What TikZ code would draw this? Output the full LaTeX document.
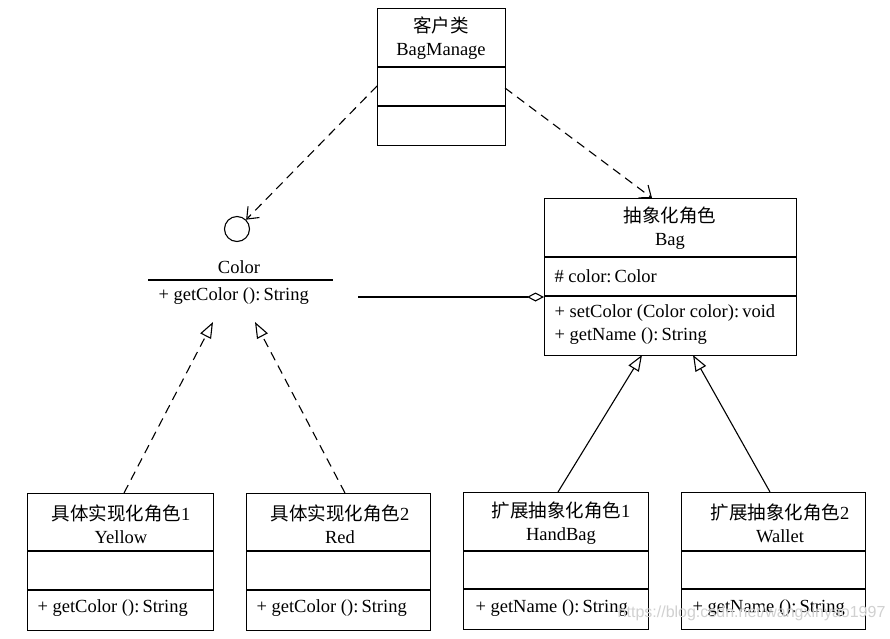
\documentclass[tikz,border=0pt]{standalone}
\usepackage{fontspec}
\setmainfont{Liberation Serif}
\newfontfamily\cjk{Noto Sans CJK SC}
\newfontfamily\wmfont{Liberation Sans}
\usetikzlibrary{arrows.meta}
\begin{document}
\begin{tikzpicture}[x=1pt,y=-1pt,line width=1.1pt,
  box/.style={draw,rectangle,inner sep=0pt,anchor=north west},
  txt/.style={inner sep=0pt,font=\fontsize{18.5}{23}\selectfont,align=center},
  mtxt/.style={inner sep=0pt,anchor=west,font=\fontsize{18.5}{23}\selectfont},
  dep/.style={dash pattern=on 9pt off 6pt,-{Straight Barb[length=10pt,width=16pt]}},
  real/.style={dash pattern=on 9pt off 6pt,-{Triangle[open,length=16pt,width=12pt]}},
  gen/.style={-{Triangle[open,length=16pt,width=12pt]}},
  agg/.style={-{Diamond[open,length=17pt,width=9pt]}}]
\useasboundingbox[fill=white] (0,0) rectangle (890,638);

% client class
\node[box,minimum width=128pt,minimum height=137pt] (bm) at (377,8) {};
\draw (bm.west |- 0,67) -- (bm.east |- 0,67);
\draw (bm.west |- 0,106) -- (bm.east |- 0,106);
\node[txt] (bmt) at (441,38.5) {{\cjk 客户类}\\BagManage};

% Color interface
\node[draw,circle,minimum size=25pt,inner sep=0pt] (ci) at (237,229) {};
\node[txt] (cname) at (239,267) {Color};
\coordinate (cl1) at (148,280);
\coordinate (cl2) at (333,280);
\draw (cl1) -- (cl2);
\node[mtxt] (cm) at (158,296) {+ getColor ():\,String};

% Bag
\node[box,minimum width=252pt,minimum height=157pt] (bag) at (544,198) {};
\draw (bag.west |- 0,257) -- (bag.east |- 0,257);
\draw (bag.west |- 0,296) -- (bag.east |- 0,296);
\node[txt] (bagt) at (670,228.5) {{\cjk 抽象化角色}\\Bag};
\node[mtxt] (baga) at (554,276) {\# color:\,Color};
\node[mtxt] (bagm1) at (554,313) {+ setColor (Color color):\,void};
\node[mtxt] (bagm2) at (554,336) {+ getName ():\,String};

% Yellow
\node[box,minimum width=186pt,minimum height=137pt] (ye) at (27,493) {};
\draw (ye.west |- 0,551) -- (ye.east |- 0,551);
\draw (ye.west |- 0,590) -- (ye.east |- 0,590);
\node[txt] (yet) at (121,524) {{\cjk 具体实现化角色}1\\Yellow};
\node[mtxt] (yem) at (37,608) {+ getColor ():\,String};

% Red
\node[box,minimum width=184pt,minimum height=137pt] (re) at (246,493) {};
\draw (re.west |- 0,551) -- (re.east |- 0,551);
\draw (re.west |- 0,590) -- (re.east |- 0,590);
\node[txt] (ret) at (340,524) {{\cjk 具体实现化角色}2\\Red};
\node[mtxt] (rem) at (256,608) {+ getColor ():\,String};

% HandBag
\node[box,minimum width=185pt,minimum height=137pt] (hb) at (463,492) {};
\draw (hb.west |- 0,551) -- (hb.east |- 0,551);
\draw (hb.west |- 0,589) -- (hb.east |- 0,589);
\node[txt] (hbt) at (561,523) {{\cjk 扩展抽象化角色}1\\HandBag};
\node[mtxt] (hbm) at (475,608) {+ getName ():\,String};

% Wallet
\node[box,minimum width=184pt,minimum height=137pt] (wa) at (681,492) {};
\draw (wa.west |- 0,551) -- (wa.east |- 0,551);
\draw (wa.west |- 0,589) -- (wa.east |- 0,589);
\node[txt] (wat) at (780,523) {{\cjk 扩展抽象化角色}2\\Wallet};
\node[mtxt] (wam) at (692,608) {+ getName ():\,String};

% connector end points
\coordinate (d1s) at (377,86);
\coordinate (d2s) at (505,88);
\coordinate (d2e) at (652,198);
\coordinate (ags) at (358,297);
\coordinate (age) at (544,297);
\coordinate (r1s) at (124,493);
\coordinate (r1e) at (213,322);
\coordinate (r2s) at (345,493);
\coordinate (r2e) at (255,322);
\coordinate (g1s) at (558,492);
\coordinate (g1e) at (642,355);
\coordinate (g2s) at (770,492);
\coordinate (g2e) at (693,355);

\draw[dep] (d1s) -- (ci);
\draw[dep] (d2s) -- (d2e);
\draw[agg] (ags) -- (age);
\draw[real] (r1s) -- (r1e);
\draw[real] (r2s) -- (r2e);
\draw[gen] (g1s) -- (g1e);
\draw[gen] (g2s) -- (g2e);

% watermark
\node[inner sep=0pt,anchor=east,text=black!18,font=\wmfont\fontsize{16}{19}\selectfont] (wm) at (886,613) {https://blog.csdn.net/wangxinyao1997};
\end{tikzpicture}
\end{document}
